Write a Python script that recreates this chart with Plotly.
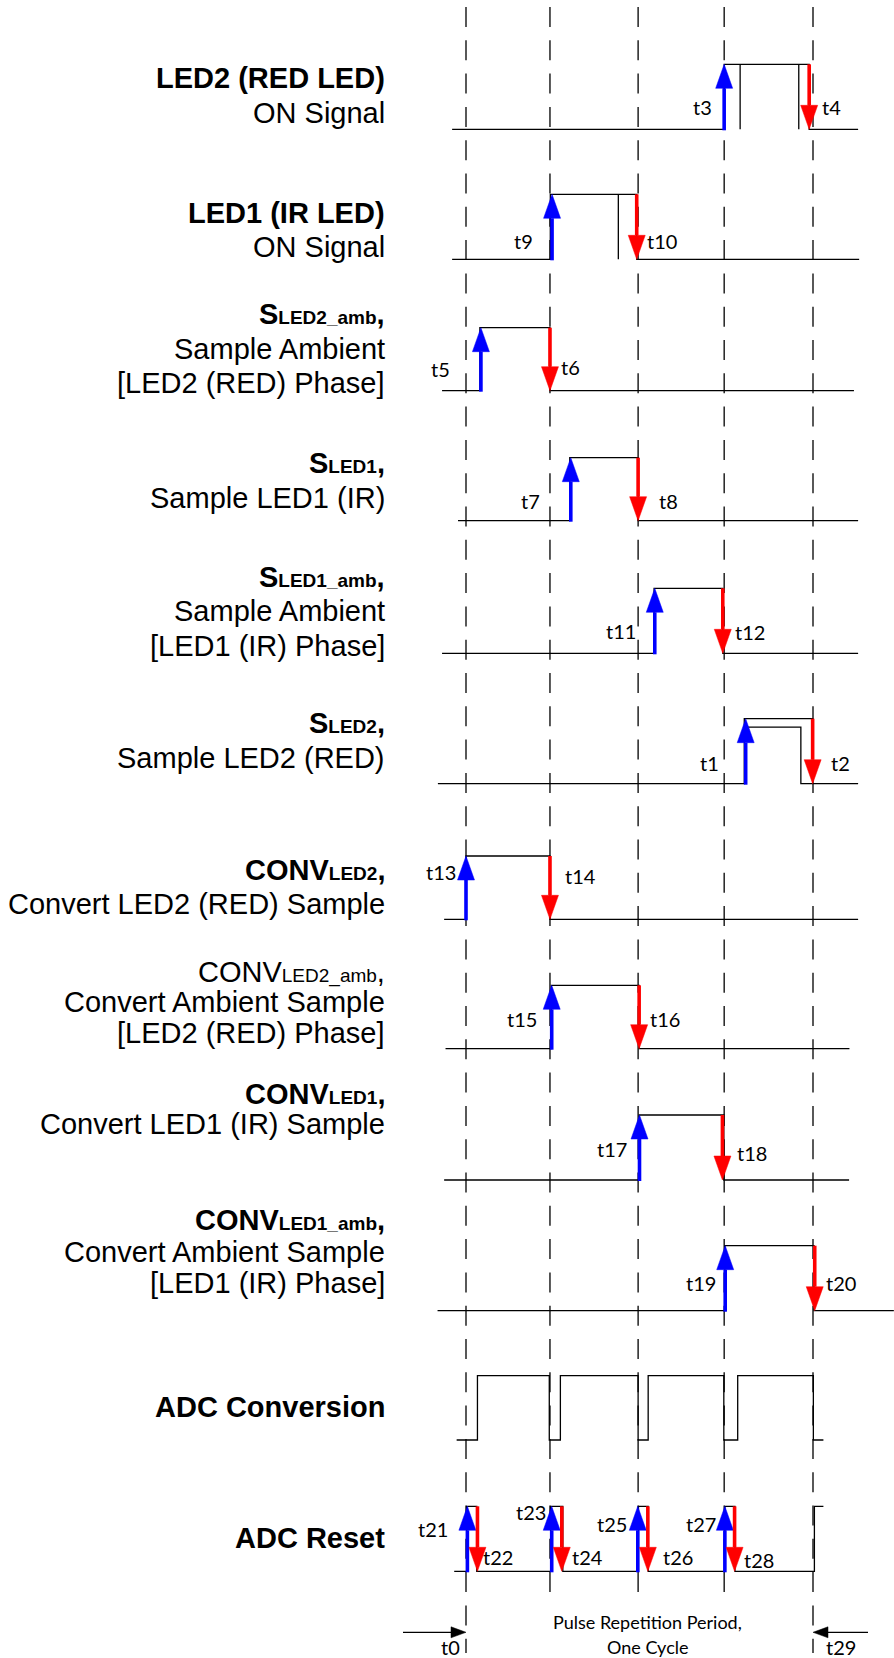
import plotly.graph_objects as go

# ---------------- data ----------------
# time axis: percent of one pulse-repetition cycle (t0 = 0, t29 = 100)
CYCLE_MARKS = [0.0, 24.2, 49.6, 74.4, 100.0]

SIGNALS = ["LED2", "LED1", "S_LED2_amb", "S_LED1", "S_LED1_amb", "S_LED2",
           "CONV_LED2", "CONV_LED2_amb", "CONV_LED1", "CONV_LED1_amb",
           "ADC_CONV", "ADC_RESET"]

SIG_START = [-4.0, -4.0, -6.9, -2.3, -6.9, -8.1, -6.3, -5.9, -6.3, -8.2, -2.7, -3.4]
SIG_END = [113.0, 113.3, 111.8, 113.0, 113.0, 100.1, 113.0, 110.5, 110.4, 123.3, 103.0, 103.0]
SIG_EDGES = [
    [74.4, 98.9],
    [24.3, 49.2],
    [4.0, 24.2],
    [29.9, 49.6],
    [54.2, 74.0],
    [80.2],
    [0.0, 24.2],
    [24.6, 49.9],
    [49.9, 74.3],
    [74.6, 100.3],
    [3.3, 24.0, 27.2, 49.6, 52.5, 74.3, 78.3, 100.1],
    [0.2, 3.1, 24.4, 27.9, 49.7, 52.5, 74.6, 77.5, 100.4],
]
# inner vertical marks inside the LED ON pulses
LED_INNER_MARKS = [[79.0, 95.9], [43.9], [], [], [], [], [], [], [], [], [], []]
# inner (second) pulse drawn inside S_LED2
SLED2_INNER = [80.6, 96.5, 113.0]
SLED2_INNER_LEVEL = 0.87

UP_ARROWS = [[74.4], [24.8], [4.3], [30.2], [54.4], [80.6], [0.0], [24.7], [50.0], [74.7], [],
             [0.4, 24.7, 49.5, 74.6]]
DOWN_ARROWS = [[98.9], [49.2], [24.2], [49.6], [74.0], [99.9], [24.2], [49.9], [73.9], [100.5], [],
               [3.3, 27.6, 52.4, 77.4]]

T_LABELS = [["t3", "t4"], ["t9", "t10"], ["t5", "t6"], ["t7", "t8"], ["t11", "t12"], ["t1", "t2"],
            ["t13", "t14"], ["t15", "t16"], ["t17", "t18"], ["t19", "t20"], [],
            ["t21", "t22", "t23", "t24", "t25", "t26", "t27", "t28"]]
T_LABEL_X = [[68.1, 105.4], [16.7, 56.4], [-7.4, 30.2], [18.7, 58.3], [44.7, 81.8], [70.3, 107.8],
             [-7.3, 32.9], [16.1, 57.3], [42.2, 82.3], [67.7, 108.0], [],
             [-9.4, 9.3, 18.7, 35.0, 42.2, 61.0, 67.7, 84.4]]

CYCLE_END_LABELS = ["t0", "t29"]
CYCLE_END_LABEL_X = [-4.6, 108.0]
PERIOD_TEXT = ["Pulse Repetition Period,", "One Cycle"]

SUB = "<span style='font-size:19px'>%s</span>"
ROW_TEXT = [
    ["<b>LED2 (RED LED)</b>", "ON Signal"],
    ["<b>LED1 (IR LED)</b>", "ON Signal"],
    ["<b>S" + SUB % "LED2_amb" + ",</b>", "Sample Ambient", "[LED2 (RED) Phase]"],
    ["<b>S" + SUB % "LED1" + ",</b>", "Sample LED1 (IR)"],
    ["<b>S" + SUB % "LED1_amb" + ",</b>", "Sample Ambient", "[LED1 (IR) Phase]"],
    ["<b>S" + SUB % "LED2" + ",</b>", "Sample LED2 (RED)"],
    ["<b>CONV" + SUB % "LED2" + ",</b>", "Convert LED2 (RED) Sample"],
    ["CONV" + SUB % "LED2_amb" + ",", "Convert Ambient Sample", "[LED2 (RED) Phase]"],
    ["<b>CONV" + SUB % "LED1" + ",</b>", "Convert LED1 (IR) Sample"],
    ["<b>CONV" + SUB % "LED1_amb" + ",</b>", "Convert Ambient Sample", "[LED1 (IR) Phase]"],
    ["<b>ADC Conversion</b>"],
    ["<b>ADC Reset</b>"],
]

# ---------------- layout (pixels) ----------------
W, H = 894, 1658
X0_PX, X100_PX = 466.0, 813.0
PPU = (X100_PX - X0_PX) / 100.0
XR = [-X0_PX / PPU, (W - X0_PX) / PPU]

ROW_BASE = [129.3, 259.3, 390.7, 520.7, 653.3, 783.7, 919.3, 1048.7, 1180.0, 1310.7, 1440.0, 1571.3]
ROW_AMP = [65.0, 65.0, 63.0, 63.0, 65.0, 65.0, 63.3, 63.4, 65.0, 65.0, 64.3, 65.0]
ROW_TEXT_Y = [
    [78.3, 113.3], [213.0, 247.0], [313.7, 349.0, 383.0], [463.3, 497.8],
    [576.7, 610.8, 646.3], [723.3, 757.8], [869.7, 904.3], [972.3, 1002.3, 1033.3],
    [1093.7, 1124.0], [1220.0, 1252.0, 1283.0], [1407.3], [1537.5],
]
T_LABEL_DY = [[-22, -22], [-18.6, -18.3], [-21.4, -23.4], [-19.7, -19.7], [-22.3, -21.6], [-21, -21],
              [-47, -43.3], [-29.4, -29.4], [-30.7, -26.7], [-27.4, -27.4], [],
              [-42.6, -14, -59.6, -14, -47.6, -14, -47.6, -11.3]]
LABEL_RIGHT_PX = 387.0
LABEL_SIZE = 29
T_SIZE = 20
DASH_TOP, DASH_BOTTOM_OUTER, DASH_BOTTOM_INNER = 7.0, 1653.0, 1597.0
HEAD_W_PX, HEAD_L_PX = 17.0, 24.0
BOTTOM_ARROW_Y = 1632.3
BOTTOM_ARROW_OUTER = [403.0, 868.0]
CYCLE_LABEL_Y = 1646.5
PERIOD_TEXT_Y = [1621.7, 1646.5]

LABEL_FONT = "Liberation Sans, Arial, sans-serif"
T_FONT = "Lato, Carlito, Calibri, sans-serif"
BLUE, RED, BLACK = "#0000FF", "#FF0000", "#000000"


def px2t(px):
    return (px - X0_PX) / PPU


fig = go.Figure()

# dashed cycle markers
dx, dy = [], []
for i, t in enumerate(CYCLE_MARKS):
    bottom = DASH_BOTTOM_OUTER if i in (0, len(CYCLE_MARKS) - 1) else DASH_BOTTOM_INNER
    dx += [t, t, None]
    dy += [DASH_TOP, bottom, None]
fig.add_trace(go.Scatter(x=dx, y=dy, mode="lines",
                         line=dict(color=BLACK, width=1.3, dash="20px,13.3px"),
                         hoverinfo="skip", showlegend=False))

# waveforms
wx, wy = [], []
for r in range(len(SIGNALS)):
    base, amp = ROW_BASE[r], ROW_AMP[r]
    lvl = 0
    xs, ys = [SIG_START[r]], [base]
    for e in SIG_EDGES[r]:
        xs += [e, e]
        ys += [base - lvl * amp, base - (1 - lvl) * amp]
        lvl = 1 - lvl
    xs.append(SIG_END[r])
    ys.append(base - lvl * amp)
    wx += xs + [None]
    wy += ys + [None]
    for m in LED_INNER_MARKS[r]:
        wx += [m, m, None]
        wy += [base, base - amp, None]
    if SIGNALS[r] == "S_LED2":
        a, b, c = SLED2_INNER
        yl = base - SLED2_INNER_LEVEL * amp
        wx += [a, b, b, c, None]
        wy += [yl, yl, base, base, None]
fig.add_trace(go.Scatter(x=wx, y=wy, mode="lines", line=dict(color=BLACK, width=1.3),
                         hoverinfo="skip", showlegend=False))

# vertical arrows
hw = HEAD_W_PX / 2 / PPU
for color, arrows, up in ((BLUE, UP_ARROWS, True), (RED, DOWN_ARROWS, False)):
    sx, sy, hx, hy = [], [], [], []
    for r, lst in enumerate(arrows):
        base, amp = ROW_BASE[r], ROW_AMP[r]
        top = base - amp
        for t in lst:
            if up:
                tip, start, hb = top, base + 1, top + HEAD_L_PX
            else:
                tip, start, hb = base, top, base - HEAD_L_PX
            sx += [t, t, None]
            sy += [start, hb, None]
            hx += [t - hw, t + hw, t, t - hw, None]
            hy += [hb, hb, tip, hb, None]
    fig.add_trace(go.Scatter(x=sx, y=sy, mode="lines", line=dict(color=color, width=3.6),
                             hoverinfo="skip", showlegend=False))
    fig.add_trace(go.Scatter(x=hx, y=hy, mode="lines", fill="toself", fillcolor=color,
                             line=dict(color=color, width=0.5), hoverinfo="skip", showlegend=False))

# bottom period arrows (pointing to t0 and t29)
bx, by, tx, ty = [], [], [], []
bh_l, bh_w = 15.0 / PPU, 5.5
for outer_px, t in zip(BOTTOM_ARROW_OUTER, (CYCLE_MARKS[0], CYCLE_MARKS[-1])):
    o = px2t(outer_px)
    d = 1 if t > o else -1
    bx += [o, t - d * bh_l, None]
    by += [BOTTOM_ARROW_Y, BOTTOM_ARROW_Y, None]
    tx += [t - d * bh_l, t, t - d * bh_l, t - d * bh_l, None]
    ty += [BOTTOM_ARROW_Y - bh_w, BOTTOM_ARROW_Y, BOTTOM_ARROW_Y + bh_w, BOTTOM_ARROW_Y - bh_w, None]
fig.add_trace(go.Scatter(x=bx, y=by, mode="lines", line=dict(color=BLACK, width=1.3),
                         hoverinfo="skip", showlegend=False))
fig.add_trace(go.Scatter(x=tx, y=ty, mode="lines", fill="toself", fillcolor=BLACK,
                         line=dict(color=BLACK, width=0.5), hoverinfo="skip", showlegend=False))

ann = []
# row labels
for lines, ys in zip(ROW_TEXT, ROW_TEXT_Y):
    for txt, y in zip(lines, ys):
        ann.append(dict(x=px2t(LABEL_RIGHT_PX), y=y, xref="x", yref="y", text=txt,
                        showarrow=False, xanchor="right", yanchor="middle",
                        font=dict(family=LABEL_FONT, size=LABEL_SIZE, color=BLACK)))
# t labels
for r in range(len(SIGNALS)):
    for lab, x, d in zip(T_LABELS[r], T_LABEL_X[r], T_LABEL_DY[r]):
        ann.append(dict(x=x, y=ROW_BASE[r] + d, xref="x", yref="y", text=lab, showarrow=False,
                        xanchor="center", yanchor="middle",
                        font=dict(family=T_FONT, size=T_SIZE, color=BLACK)))
for lab, x in zip(CYCLE_END_LABELS, CYCLE_END_LABEL_X):
    ann.append(dict(x=x, y=CYCLE_LABEL_Y, xref="x", yref="y", text=lab, showarrow=False,
                    xanchor="center", yanchor="middle",
                    font=dict(family=T_FONT, size=T_SIZE, color=BLACK)))
mid = (CYCLE_MARKS[0] + CYCLE_MARKS[-1]) / 2 + 2.4
for txt, y in zip(PERIOD_TEXT, PERIOD_TEXT_Y):
    ann.append(dict(x=mid, y=y, xref="x", yref="y", text=txt, showarrow=False,
                    xanchor="center", yanchor="middle",
                    font=dict(family=T_FONT, size=18, color=BLACK)))

fig.update_layout(
    width=W, height=H, margin=dict(l=0, r=0, t=0, b=0),
    paper_bgcolor="white", plot_bgcolor="white",
    xaxis=dict(range=XR, visible=False, fixedrange=True),
    yaxis=dict(range=[H, 0], visible=False, fixedrange=True),
    annotations=ann, showlegend=False,
)
fig.write_html("out.html", config={"displayModeBar": False},
               post_script="document.body.style.margin='0';document.body.style.overflow='hidden';")
